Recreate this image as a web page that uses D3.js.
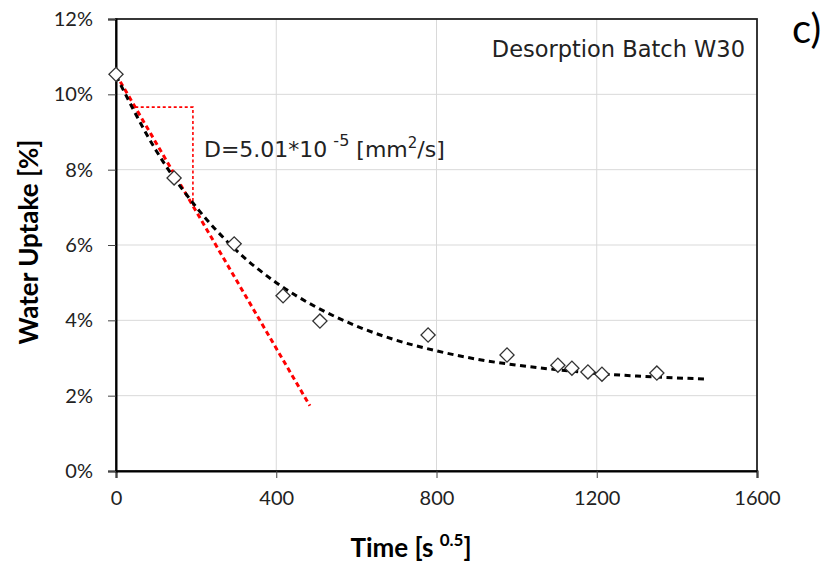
<!DOCTYPE html>
<html>
<head>
<meta charset="utf-8">
<script src="https://cdn.jsdelivr.net/npm/d3@7"></script>
<style>
  body { margin: 0; background: #fff; }
  svg { display: block; }
</style>
</head>
<body>
<svg id="chart"></svg>
<script>
// measured points (time in s^0.5, uptake in %)
const timeVals = [0, 145, 295, 417, 509, 779, 976, 1103, 1138, 1178, 1213, 1350];
const uptakeVals = [10.53, 7.78, 6.03, 4.65, 3.98, 3.61, 3.08, 2.81, 2.73, 2.63, 2.57, 2.60];

// black dashed fit curve
const fitTime = [0, 100, 200, 300, 400, 500, 600, 700, 800, 900, 1000, 1100, 1200, 1300, 1400, 1478];
const fitUptake = [10.50, 8.51, 7.01, 5.86, 5.00, 4.35, 3.85, 3.47, 3.19, 2.97, 2.81, 2.69, 2.59, 2.52, 2.47, 2.44];

// red initial slope line + slope triangle
const slopeTime = [0, 484];
const slopeUptake = [10.53, 1.73];
const triTime = [48, 192, 192];
const triUptake = [9.66, 9.66, 7.04];

const xTicks = [0, 400, 800, 1200, 1600];
const yTicks = [0, 2, 4, 6, 8, 10, 12];

const width = 831, height = 566;
const margin = { top: 19, right: 74, bottom: 95, left: 116 };
const innerW = width - margin.left - margin.right;
const innerH = height - margin.top - margin.bottom;

const svg = d3.select("#chart").attr("width", width).attr("height", height);

const x = d3.scaleLinear().domain([0, 1600]).range([0, innerW]);
const y = d3.scaleLinear().domain([0, 12]).range([innerH, 0]);

const g = svg.append("g")
    .attr("transform", "translate(" + margin.left + "," + margin.top + ")");

//Grid
g.append("g")
    .selectAll("line")
    .data(yTicks.slice(1, -1))
    .enter()
    .append("line")
    .attr("x1", 0).attr("x2", innerW)
    .attr("y1", d => y(d)).attr("y2", d => y(d))
    .attr("stroke", "#d9d9d9").attr("stroke-width", 1);

g.append("g")
    .selectAll("line")
    .data(xTicks.slice(1, -1))
    .enter()
    .append("line")
    .attr("y1", 0).attr("y2", innerH)
    .attr("x1", d => x(d)).attr("x2", d => x(d))
    .attr("stroke", "#d9d9d9").attr("stroke-width", 1);

//Frame
g.append("rect")
    .attr("width", innerW).attr("height", innerH)
    .attr("fill", "none").attr("stroke", "#222").attr("stroke-width", 1.8);

//Axes
const xAxis = g.append("g")
    .attr("transform", "translate(0," + innerH + ")")
    .call(d3.axisBottom(x).tickValues(xTicks).tickSize(7).tickPadding(13).tickFormat(d3.format("d")));

const yAxis = g.append("g")
    .call(d3.axisLeft(y).tickValues(yTicks).tickSize(8).tickPadding(15).tickFormat(d => d + "%"));

[xAxis, yAxis].forEach(function (a) {
    a.select(".domain").attr("stroke", "#000").attr("stroke-width", 2);
    a.selectAll(".tick line").attr("stroke", "#444").attr("stroke-width", 1);
    a.selectAll(".tick text")
        .attr("fill", "#222")
        .style("font-family", "Lato, 'Open Sans', sans-serif")
        .style("font-size", "20px");
});

//Lines
const line = d3.line().x(d => x(d[0])).y(d => y(d[1]));

g.append("path")
    .datum(slopeTime.map((t, i) => [t, slopeUptake[i]]))
    .attr("d", line)
    .attr("fill", "none").attr("stroke", "#ff0000")
    .attr("stroke-width", 3).attr("stroke-dasharray", "5,3.5");

g.append("path")
    .datum(triTime.map((t, i) => [t, triUptake[i]]))
    .attr("d", line)
    .attr("fill", "none").attr("stroke", "#ff0000")
    .attr("stroke-width", 1.6).attr("stroke-dasharray", "3,2.5");

g.append("path")
    .datum(fitTime.map((t, i) => [t, fitUptake[i]]))
    .attr("d", line.curve(d3.curveMonotoneX))
    .attr("fill", "none").attr("stroke", "#000")
    .attr("stroke-width", 3).attr("stroke-dasharray", "6,4.5");

//Markers
const symbol = d3.symbol().type(d3.symbolSquare).size(100);
g.append("g")
    .selectAll("path")
    .data(timeVals.map((t, i) => [t, uptakeVals[i]]))
    .enter()
    .append("path")
    .attr("d", symbol)
    .attr("transform", d => "translate(" + x(d[0]) + "," + y(d[1]) + ") rotate(45)")
    .attr("fill", "#fff").attr("stroke", "#333").attr("stroke-width", 1.3);

//Annotations
const note = svg.append("text")
    .attr("x", 204).attr("y", 157)
    .attr("fill", "#222")
    .style("font-family", "'DejaVu Sans', sans-serif")
    .style("font-size", "22px");
note.append("tspan").text("D=5.01*10");
note.append("tspan").attr("dx", 6).attr("dy", -11).style("font-size", "16px").text("-5");
note.append("tspan").attr("dx", 7).attr("dy", 11).text("[mm");
note.append("tspan").attr("dy", -9).style("font-size", "15px").text("2");
note.append("tspan").attr("dy", 9).text("/s]");

svg.append("text")
    .attr("x", 745).attr("y", 57)
    .attr("text-anchor", "end")
    .attr("fill", "#222")
    .style("font-family", "'DejaVu Sans', sans-serif")
    .style("font-size", "22.5px")
    .text("Desorption Batch W30");

svg.append("text")
    .attr("x", 792).attr("y", 43)
    .attr("fill", "#000")
    .style("font-family", "Lato, sans-serif")
    .style("font-size", "40px")
    .text("c)");

//Axis titles
const xTitle = svg.append("text")
    .attr("x", 411).attr("y", 557)
    .attr("text-anchor", "middle")
    .attr("fill", "#000")
    .style("font-family", "Lato, sans-serif")
    .style("font-weight", "bold")
    .style("font-size", "26px");
xTitle.append("tspan").text("Time [s ");
xTitle.append("tspan").attr("dy", -11).style("font-size", "17px").text("0.5");
xTitle.append("tspan").attr("dy", 11).text("]");

svg.append("text")
    .attr("transform", "translate(38," + 242 + ") rotate(-90)")
    .attr("text-anchor", "middle")
    .attr("fill", "#000")
    .style("font-family", "Lato, sans-serif")
    .style("font-weight", "bold")
    .style("font-size", "26px")
    .text("Water Uptake [%]");
</script>
</body>
</html>
